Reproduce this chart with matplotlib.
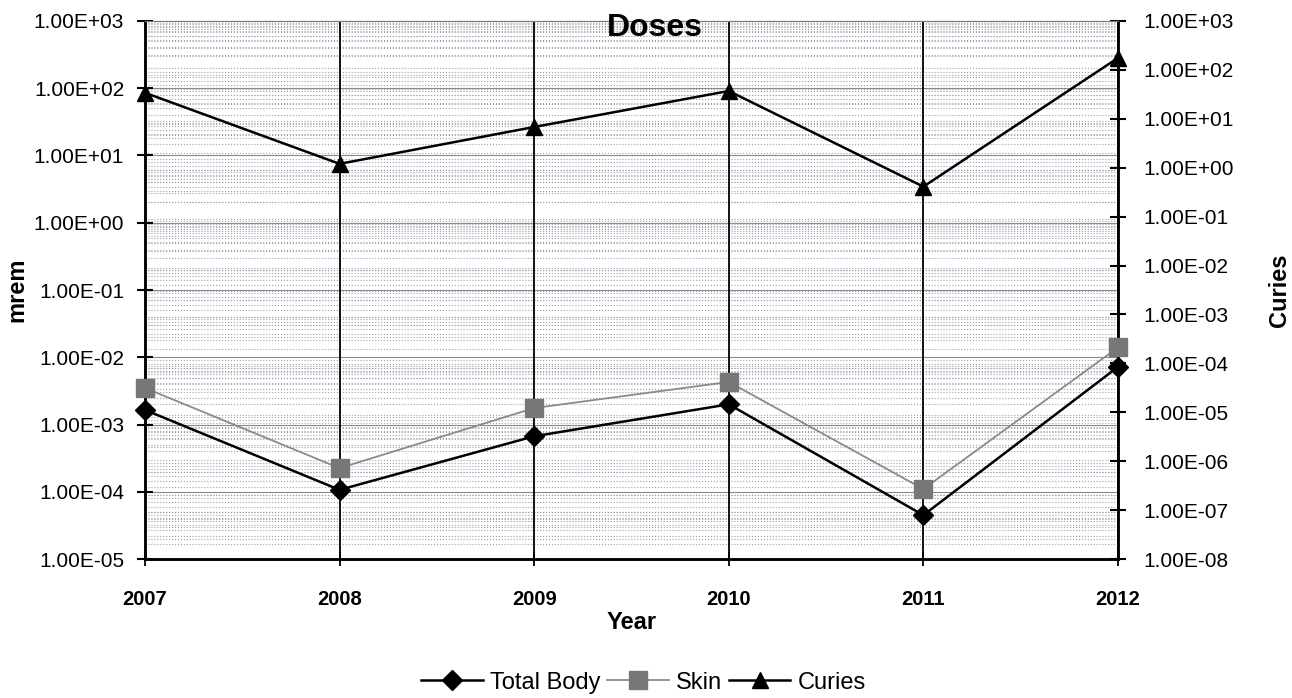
import numpy as np
import matplotlib.pyplot as plt
from matplotlib.ticker import LogLocator, FuncFormatter, NullFormatter

plt.rcParams['font.family'] = ['Liberation Sans', 'DejaVu Sans']

years = [2007, 2008, 2009, 2010, 2011, 2012]
total_body = [1.65e-3, 1.07e-4, 6.7e-4, 2.0e-3, 4.5e-5, 7.2e-3]
skin = [3.5e-3, 2.25e-4, 1.76e-3, 4.3e-3, 1.1e-4, 1.4e-2]
curies = [34, 1.2, 6.8, 37, 0.41, 175]

sci = FuncFormatter(lambda v, p: f'{v:.2E}')
grid_col = '#a0a0ae'

fig = plt.figure(figsize=(12.92, 6.98), dpi=100)
ax = fig.add_axes([0.1122, 0.199, 0.7531, 0.771])
ax2 = ax.twinx()
# mrem axis on top, curies axis (with all horizontal grid) underneath
ax.set_zorder(2)
ax2.set_zorder(1)
ax.patch.set_visible(False)

# left axis: mrem
ax.set_yscale('log')
ax.set_ylim(1e-5, 1e3)
ax.set_xlim(2007, 2012)
ax.yaxis.set_major_locator(LogLocator(base=10, numticks=20))
ax.yaxis.set_minor_locator(LogLocator(base=10, subs=np.arange(2, 10), numticks=20))
ax.yaxis.set_major_formatter(sci)
ax.yaxis.set_minor_formatter(NullFormatter())
ax.set_xticks(years)
ax.grid(True, which='major', axis='x', color='black', linestyle='-', linewidth=1.3)
ax.tick_params(axis='y', which='major', direction='inout', length=12, width=1.5, labelsize=15, pad=9)
ax.tick_params(axis='y', which='minor', length=0)
ax.tick_params(axis='x', direction='inout', length=10, width=1.3, labelsize=14.5, pad=17)
for t in ax.get_xticklabels():
    t.set_fontweight('bold')

# right axis: curies
ax2.set_yscale('log')
ax2.set_ylim(1e-8, 1e3)
ax2.yaxis.set_major_locator(LogLocator(base=10, numticks=20))
ax2.yaxis.set_minor_locator(LogLocator(base=10, subs=np.arange(2, 10), numticks=20))
ax2.yaxis.set_major_formatter(sci)
ax2.yaxis.set_minor_formatter(NullFormatter())
ax2.grid(True, which='minor', axis='y', color=grid_col, linestyle=':', linewidth=0.8)
ax2.tick_params(axis='y', which='major', direction='inout', length=12, width=1.5, labelsize=15, pad=12)
ax2.tick_params(axis='y', which='minor', length=0)

# mrem horizontal grid drawn in the lower axes, using the mrem scale
ytr = ax.get_yaxis_transform()
for v in ax.yaxis.get_minorticklocs():
    if 1e-5 < v < 1e3:
        ax2.plot([0, 1], [v, v], transform=ytr, color=grid_col, ls=':', lw=0.8, zorder=0.5)
for v in ax.yaxis.get_majorticklocs():
    if 1e-5 < v < 1e3:
        ax2.plot([0, 1], [v, v], transform=ytr, color='#888896', ls='-', lw=0.8, zorder=0.5)

for a in (ax, ax2):
    for s in ('left', 'right', 'bottom'):
        a.spines[s].set_linewidth(1.8)
    a.spines['top'].set_color('#777777')

l1, = ax.plot(years, total_body, color='black', lw=1.8, marker='D', ms=10,
              label='Total Body', zorder=5, clip_on=False)
l2, = ax.plot(years, skin, color='#8a8a8a', lw=1.3, marker='s', ms=13,
              mfc='#777777', mec='#777777', label='Skin', zorder=5, clip_on=False)
l3, = ax2.plot(years, curies, color='black', lw=1.8, marker='^', ms=12,
               label='Curies', zorder=5, clip_on=False)

ax.set_xlabel('Year', fontsize=17, fontweight='bold', labelpad=2)
ax.set_ylabel('mrem', fontsize=17, fontweight='bold', labelpad=4)
ax2.set_ylabel('Curies', fontsize=17, fontweight='bold', labelpad=25)

fig.text(0.507, 0.96, 'Doses', ha='center', va='center', fontsize=23, fontweight='bold')

fig.legend(handles=[l1, l2, l3], loc='center', bbox_to_anchor=(0.498, 0.022), ncol=3,
           frameon=False, fontsize=17, handlelength=2.6, handletextpad=0.3, columnspacing=0.3)

fig.savefig('out.png', dpi=100)
